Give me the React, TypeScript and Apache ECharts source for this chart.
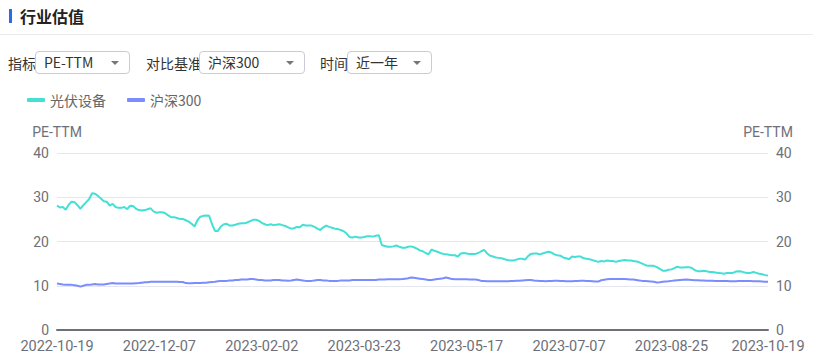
import React, { useEffect, useRef } from "react";
import * as echarts from "echarts";

const START_DATE = "2022-10-19";
const END_DATE = "2023-10-19";
const HOLIDAYS = [
  "2023-01-02", "2023-01-23", "2023-01-24", "2023-01-25", "2023-01-26", "2023-01-27",
  "2023-04-05", "2023-05-01", "2023-05-02", "2023-05-03", "2023-06-22", "2023-06-23",
  "2023-09-29", "2023-10-02", "2023-10-03", "2023-10-04", "2023-10-05", "2023-10-06",
];

function tradingDays(start: string, end: string, holidays: string[]): string[] {
  const out: string[] = [];
  const d = new Date(start + "T00:00:00Z");
  const e = new Date(end + "T00:00:00Z");
  while (d.getTime() <= e.getTime()) {
    const wd = d.getUTCDay();
    const s = d.toISOString().slice(0, 10);
    if (wd !== 0 && wd !== 6 && holidays.indexOf(s) < 0) out.push(s);
    d.setUTCDate(d.getUTCDate() + 1);
  }
  return out;
}

const DATES = tradingDays(START_DATE, END_DATE, HOLIDAYS);

const SERIES_NAMES = ["光伏设备", "沪深300"];
const Y_TICKS = [0, 10, 20, 30, 40];
const AXIS_NAME = "PE-TTM";

const PV_EQUIPMENT = [
  28.1, 27.7, 27.8, 27.2, 28.3, 29.0, 28.9, 28.2, 27.4, 28.2,
  28.9, 29.6, 30.9, 30.8, 30.3, 29.7, 29.1, 29.0, 28.1, 28.5,
  27.8, 27.6, 27.6, 27.8, 27.3, 28.1, 28.0, 27.4, 27.1, 27.0,
  27.1, 27.3, 27.5, 26.8, 26.5, 26.6, 26.6, 26.4, 25.9, 25.5,
  25.5, 25.3, 25.1, 25.1, 24.8, 24.5, 24.0, 23.4, 24.8, 25.6,
  25.8, 25.9, 25.8, 23.9, 22.4, 22.4, 23.4, 23.9, 24.0, 23.6,
  23.6, 23.8, 24.0, 24.1, 24.1, 24.3, 24.6, 24.9, 24.9,
  24.7, 24.2, 23.9, 23.7, 23.9, 23.7, 23.8, 23.9, 23.7, 23.5,
  23.2, 22.9, 23.0, 23.3, 23.2, 23.8, 23.6, 23.6, 23.6, 23.3,
  22.9, 22.6, 23.2, 23.6, 23.3, 23.1, 22.9, 22.8, 22.6, 22.3,
  21.8, 21.0, 20.9, 21.1, 20.9, 20.9, 21.0, 21.2, 21.2, 21.1,
  21.3, 21.4, 19.2, 19.0, 18.8, 18.8, 18.9, 19.1, 18.8, 18.6,
  18.6, 18.8, 18.9, 18.7, 18.4, 18.0, 17.8, 17.4, 17.1, 18.2,
  17.9, 17.7, 17.4, 17.2, 17.1, 17.0, 16.9, 16.9, 16.6, 17.3,
  17.4, 17.3, 17.2, 17.2, 17.2, 17.4, 17.8, 18.1, 17.3, 16.8,
  16.6, 16.4, 16.3, 16.2, 16.0, 15.8, 15.7, 15.7, 15.9, 16.1,
  16.1, 15.9, 16.7, 17.2, 17.3, 17.3, 17.1, 17.3, 17.5, 17.7,
  17.5, 17.1, 16.9, 16.8, 16.4, 16.2, 16.0, 16.6, 16.5, 16.6,
  16.6, 16.2, 16.1, 16.0, 15.8, 15.6, 15.4, 15.6, 15.5,
  15.7, 15.6, 15.6, 15.4, 15.6, 15.7, 15.8, 15.7, 15.7, 15.6,
  15.5, 15.3, 15.0, 14.7, 14.5, 14.5, 14.5, 14.2, 13.8, 13.4,
  13.4, 13.6, 13.7, 14.0, 14.3, 14.1, 14.1, 14.2, 14.2, 14.0,
  13.5, 13.3, 13.3, 13.4, 13.3, 13.1, 13.1, 13.0, 12.9, 12.8,
  12.7, 12.9, 12.9, 12.9, 13.2, 13.3, 13.2, 13.0, 12.9, 12.9,
  13.1, 12.9, 12.7, 12.6, 12.4, 12.3,
];

const CSI300 = [
  10.5, 10.4, 10.3, 10.25, 10.2, 10.2, 10.1, 10.0, 9.8, 10.0,
  10.2, 10.2, 10.3, 10.4, 10.3, 10.3, 10.3, 10.4, 10.5, 10.6,
  10.5, 10.5, 10.5, 10.5, 10.5, 10.5, 10.5, 10.55, 10.6, 10.7,
  10.8, 10.8, 10.9, 10.9, 10.9, 10.9, 10.9, 10.9, 10.9, 10.9,
  10.9, 10.9, 10.85, 10.85, 10.6, 10.55, 10.55, 10.6, 10.6, 10.6,
  10.7, 10.7, 10.8, 10.85, 10.9, 11.0, 11.1, 11.1, 11.1, 11.2,
  11.2, 11.3, 11.3, 11.4, 11.4, 11.4, 11.5, 11.5, 11.4,
  11.3, 11.3, 11.2, 11.2, 11.2, 11.3, 11.3, 11.3, 11.2, 11.2,
  11.15, 11.2, 11.3, 11.4, 11.3, 11.2, 11.1, 11.1, 11.1, 11.2,
  11.3, 11.3, 11.2, 11.2, 11.1, 11.1, 11.1, 11.1, 11.2, 11.2,
  11.2, 11.2, 11.3, 11.3, 11.3, 11.3, 11.3, 11.3, 11.3, 11.3,
  11.3, 11.4, 11.4, 11.4, 11.45, 11.45, 11.45, 11.45, 11.45, 11.5,
  11.6, 11.7, 11.85, 11.8, 11.7, 11.6, 11.5, 11.4, 11.3, 11.3,
  11.4, 11.5, 11.6, 11.7, 11.85, 11.7, 11.5, 11.45, 11.45, 11.45,
  11.45, 11.45, 11.4, 11.4, 11.4, 11.3, 11.1, 11.05, 11.0, 11.0,
  11.0, 11.0, 11.0, 11.0, 11.0, 11.0, 11.05, 11.1, 11.15, 11.15,
  11.2, 11.25, 11.3, 11.3, 11.2, 11.15, 11.1, 11.05, 11.0, 11.05,
  11.1, 11.15, 11.15, 11.1, 11.05, 11.0, 11.0, 11.0, 11.05, 11.1,
  11.15, 11.15, 11.1, 11.05, 11.0, 10.95, 10.95, 11.25, 11.35,
  11.45, 11.5, 11.5, 11.5, 11.5, 11.5, 11.5, 11.45, 11.4, 11.4,
  11.3, 11.2, 11.1, 11.05, 11.0, 10.95, 10.9, 10.75, 10.8, 10.9,
  10.95, 11.0, 11.1, 11.2, 11.25, 11.3, 11.35, 11.4, 11.35, 11.3,
  11.25, 11.25, 11.2, 11.2, 11.15, 11.15, 11.15, 11.1, 11.1, 11.1,
  11.1, 11.05, 11.0, 11.0, 11.0, 11.05, 11.1, 11.1, 11.1, 11.05,
  11.0, 11.0, 11.0, 10.95, 10.9, 10.9,
];

const FILTERS = [
  { label: "指标", value: "PE-TTM", labelLeft: 8, boxLeft: 35, boxWidth: 95 },
  { label: "对比基准", value: "沪深300", labelLeft: 146, boxLeft: 199, boxWidth: 106 },
  { label: "时间", value: "近一年", labelLeft: 320, boxLeft: 347, boxWidth: 85 },
];

const FONT = '"Noto Sans CJK SC", "Noto Sans", sans-serif';
const NUM_FONT = 'Roboto, "Noto Sans CJK SC", sans-serif';
const AXIS_COLOR = "#6E7079";

export default function App() {
  const ref = useRef<HTMLDivElement>(null);

  useEffect(() => {
    if (!ref.current) return;
    const chart = echarts.init(ref.current, undefined, { renderer: "svg" });
    const last = DATES.length - 1;
    const yAxisBase = (pos: "left" | "right", split: boolean) => ({
      type: "value",
      position: pos,
      min: Y_TICKS[0],
      max: Y_TICKS[Y_TICKS.length - 1],
      interval: 10,
      name: AXIS_NAME,
      nameLocation: "end",
      nameGap: 14,
      nameTextStyle: { color: AXIS_COLOR, fontSize: 14, fontFamily: NUM_FONT },
      axisLine: { show: false },
      axisTick: { show: false },
      axisLabel: { color: AXIS_COLOR, fontSize: 14, fontFamily: NUM_FONT, margin: 8 },
      splitLine: { show: split, lineStyle: { color: "#E6E6F0", width: 1 } },
    });
    chart.setOption({
      animation: false,
      textStyle: { fontFamily: FONT },
      legend: {
        left: 22,
        top: 88,
        icon: "roundRect",
        itemWidth: 18,
        itemHeight: 4,
        itemGap: 21,
        textStyle: { color: "#666", fontSize: 14, fontFamily: FONT },
        data: SERIES_NAMES,
      },
      grid: { left: 57, right: 45, top: 153, bottom: 33, containLabel: false },
      xAxis: {
        type: "category",
        data: DATES,
        boundaryGap: false,
        axisLine: { show: true, lineStyle: { color: AXIS_COLOR, width: 2 } },
        axisTick: { show: false },
        axisLabel: {
          color: AXIS_COLOR,
          fontSize: 14.5,
          fontFamily: NUM_FONT,
          margin: 9,
          interval: (i: number) => i % 35 === 0 || i === last,
        },
      },
      yAxis: [yAxisBase("left", true), yAxisBase("right", false)],
      series: [
        {
          name: SERIES_NAMES[0],
          type: "line",
          data: PV_EQUIPMENT,
          showSymbol: false,
          symbol: "none",
          lineStyle: { color: "#44E0D6", width: 2 },
          itemStyle: { color: "#44E0D6" },
        },
        {
          name: SERIES_NAMES[1],
          type: "line",
          data: CSI300,
          showSymbol: false,
          symbol: "none",
          lineStyle: { color: "#7B8CFF", width: 2 },
          itemStyle: { color: "#7B8CFF" },
        },
      ],
    });
    return () => chart.dispose();
  }, []);

  return (
    <div style={{ position: "absolute", left: 0, top: 0, width: 813, height: 363, background: "#fff", fontFamily: FONT, overflow: "hidden" }}>
      <div ref={ref} style={{ position: "absolute", left: 0, top: 0, width: 813, height: 363 }} />
      <div style={{ position: "absolute", left: 9, top: 9, width: 3, height: 14, background: "#2B6BE6" }} />
      <div style={{ position: "absolute", left: 20, top: 4, fontSize: 16, fontWeight: 700, color: "#222", lineHeight: "24px" }}>行业估值</div>
      <div style={{ position: "absolute", left: 0, top: 34, width: 813, height: 1, background: "#ECECF0" }} />
      {FILTERS.map((f) => (
        <React.Fragment key={f.label}>
          <div style={{ position: "absolute", left: f.labelLeft, top: 52, fontSize: 14, color: "#333", lineHeight: "22px" }}>{f.label}</div>
          <div
            style={{
              position: "absolute",
              left: f.boxLeft,
              top: 51,
              width: f.boxWidth,
              height: 23,
              boxSizing: "border-box",
              border: "1px solid #CACAD8",
              borderRadius: 4,
              background: "#fff",
            }}
          >
            <div style={{ position: "absolute", left: 8, top: 0, fontSize: 14, color: "#333", lineHeight: "21px" }}>{f.value}</div>
            <div
              style={{
                position: "absolute",
                right: 10,
                top: 9,
                width: 0,
                height: 0,
                borderLeft: "4px solid transparent",
                borderRight: "4px solid transparent",
                borderTop: "4px solid #777",
              }}
            />
          </div>
        </React.Fragment>
      ))}
    </div>
  );
}
